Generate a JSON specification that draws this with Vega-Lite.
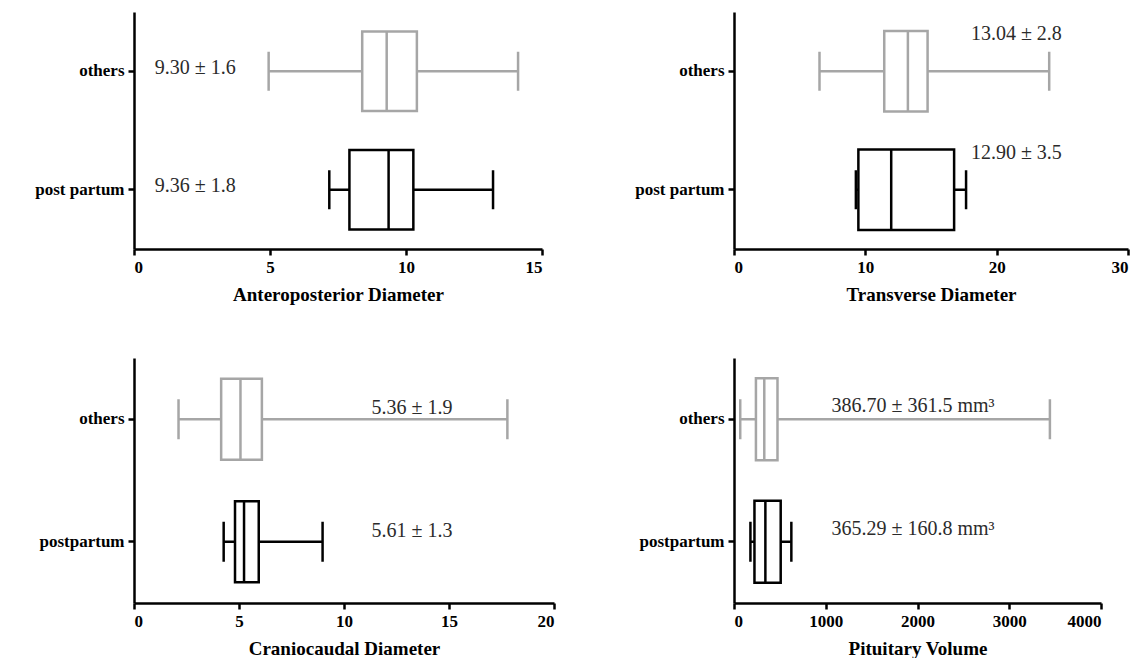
{
  "$schema": "https://vega.github.io/schema/vega-lite/v6.json",
  "background": "white",
  "padding": {"left": 34, "top": 12, "right": 0, "bottom": 0},
  "bounds": "flush",
  "align": "each",
  "columns": 2,
  "spacing": {"row": 109, "column": 180},
  "resolve": {"scale": {"color": "independent", "stroke": "independent"}},
  "config": {
    "view": {"stroke": null},
    "tick": {"opacity": 1},
    "axis": {
      "grid": false,
      "domainColor": "black",
      "domainWidth": 2.5,
      "tickColor": "black",
      "tickWidth": 2.5,
      "tickSize": 6,
      "labelFont": "Liberation Serif",
      "labelFontWeight": "bold",
      "labelFontSize": 17,
      "labelColor": "black",
      "labelPadding": 4,
      "titleFont": "Liberation Serif",
      "titleFontWeight": "bold",
      "titleFontSize": 19,
      "titleColor": "black",
      "titlePadding": 10
    },
    "text": {"font": "Liberation Serif", "fontSize": 20, "color": "#2b2b2b", "align": "center"}
  },
  "concat": [
        {
          "width": 408, "height": 237,
          "data": {"values": [
            {"group": "others", "min": 4.95, "q1": 8.39, "median": 9.29, "q3": 10.4, "max": 14.12, "label": "9.30 ± 1.6"},
            {"group": "post partum", "min": 7.18, "q1": 7.92, "median": 9.36, "q3": 10.27, "max": 13.2, "label": "9.36 ± 1.8"}
          ]},
          "encoding": {"y": {"field": "group", "type": "nominal", "sort": ["others", "post partum"], "scale": {"paddingInner": 0, "paddingOuter": 0}, "axis": {"title": null}}},
          "layer": [
            {"mark": {"type": "rule", "strokeWidth": 2.5}, "encoding": {
              "x": {"field": "min", "type": "quantitative", "scale": {"domain": [0, 15], "nice": false, "zero": false}, "axis": {"values": [0, 5, 10, 15], "title": "Anteroposterior Diameter"}},
              "x2": {"field": "max"},
              "color": {"field": "group", "type": "nominal", "scale": {"domain": ["others", "post partum"], "range": ["#a6a6a6", "#000000"]}, "legend": null}}},
            {"mark": {"type": "bar", "fill": "white", "strokeWidth": 2.5, "height": {"band": 0.67}}, "encoding": {
              "x": {"field": "q1", "type": "quantitative", "title": "Anteroposterior Diameter"}, "x2": {"field": "q3"},
              "stroke": {"field": "group", "type": "nominal", "scale": {"domain": ["others", "post partum"], "range": ["#a6a6a6", "#000000"]}, "legend": null}}},
            {"mark": {"type": "tick", "thickness": 2.5, "size": 80}, "encoding": {
              "x": {"field": "median", "type": "quantitative", "title": "Anteroposterior Diameter"},
              "color": {"field": "group", "type": "nominal", "scale": {"domain": ["others", "post partum"], "range": ["#a6a6a6", "#000000"]}, "legend": null}}},
            {"mark": {"type": "tick", "thickness": 2.5, "size": 39}, "encoding": {
              "x": {"field": "min", "type": "quantitative", "title": "Anteroposterior Diameter"},
              "color": {"field": "group", "type": "nominal", "scale": {"domain": ["others", "post partum"], "range": ["#a6a6a6", "#000000"]}, "legend": null}}},
            {"mark": {"type": "tick", "thickness": 2.5, "size": 39}, "encoding": {
              "x": {"field": "max", "type": "quantitative", "title": "Anteroposterior Diameter"},
              "color": {"field": "group", "type": "nominal", "scale": {"domain": ["others", "post partum"], "range": ["#a6a6a6", "#000000"]}, "legend": null}}},
            {"mark": {"type": "text", "dy": -3.5}, "encoding": {
              "x": {"datum": 2.25, "type": "quantitative"},
              "text": {"field": "label", "type": "nominal"}}}
          ]
        },
        {
          "width": 394, "height": 237,
          "data": {"values": [
            {"group": "others", "min": 6.51, "q1": 11.44, "median": 13.24, "q3": 14.74, "max": 24.0, "label": "13.04 ± 2.8"},
            {"group": "post partum", "min": 9.28, "q1": 9.47, "median": 11.97, "q3": 16.76, "max": 17.67, "label": "12.90 ± 3.5"}
          ]},
          "encoding": {"y": {"field": "group", "type": "nominal", "sort": ["others", "post partum"], "scale": {"paddingInner": 0, "paddingOuter": 0}, "axis": {"title": null}}},
          "layer": [
            {"mark": {"type": "rule", "strokeWidth": 2.5}, "encoding": {
              "x": {"field": "min", "type": "quantitative", "scale": {"domain": [0, 30], "nice": false, "zero": false}, "axis": {"values": [0, 10, 20, 30], "title": "Transverse Diameter"}},
              "x2": {"field": "max"},
              "color": {"field": "group", "type": "nominal", "scale": {"domain": ["others", "post partum"], "range": ["#a6a6a6", "#000000"]}, "legend": null}}},
            {"mark": {"type": "bar", "fill": "white", "strokeWidth": 2.5, "height": {"band": 0.68}}, "encoding": {
              "x": {"field": "q1", "type": "quantitative", "title": "Transverse Diameter"}, "x2": {"field": "q3"},
              "stroke": {"field": "group", "type": "nominal", "scale": {"domain": ["others", "post partum"], "range": ["#a6a6a6", "#000000"]}, "legend": null}}},
            {"mark": {"type": "tick", "thickness": 2.5, "size": 81}, "encoding": {
              "x": {"field": "median", "type": "quantitative", "title": "Transverse Diameter"},
              "color": {"field": "group", "type": "nominal", "scale": {"domain": ["others", "post partum"], "range": ["#a6a6a6", "#000000"]}, "legend": null}}},
            {"mark": {"type": "tick", "thickness": 2.5, "size": 39}, "encoding": {
              "x": {"field": "min", "type": "quantitative", "title": "Transverse Diameter"},
              "color": {"field": "group", "type": "nominal", "scale": {"domain": ["others", "post partum"], "range": ["#a6a6a6", "#000000"]}, "legend": null}}},
            {"mark": {"type": "tick", "thickness": 2.5, "size": 39}, "encoding": {
              "x": {"field": "max", "type": "quantitative", "title": "Transverse Diameter"},
              "color": {"field": "group", "type": "nominal", "scale": {"domain": ["others", "post partum"], "range": ["#a6a6a6", "#000000"]}, "legend": null}}},
            {"mark": {"type": "text", "dy": -37}, "encoding": {
              "x": {"datum": 21.5, "type": "quantitative"},
              "text": {"field": "label", "type": "nominal"}}}
          ]
        },
        {
          "width": 420, "height": 245,
          "data": {"values": [
            {"group": "others", "min": 2.12, "q1": 4.15, "median": 5.07, "q3": 6.09, "max": 17.78, "label": "5.36 ± 1.9"},
            {"group": "postpartum", "min": 4.27, "q1": 4.81, "median": 5.24, "q3": 5.94, "max": 8.98, "label": "5.61 ± 1.3"}
          ]},
          "encoding": {"y": {"field": "group", "type": "nominal", "sort": ["others", "postpartum"], "scale": {"paddingInner": 0, "paddingOuter": 0}, "axis": {"title": null}}},
          "layer": [
            {"mark": {"type": "rule", "strokeWidth": 2.5}, "encoding": {
              "x": {"field": "min", "type": "quantitative", "scale": {"domain": [0, 20], "nice": false, "zero": false}, "axis": {"values": [0, 5, 10, 15, 20], "title": "Craniocaudal Diameter"}},
              "x2": {"field": "max"},
              "color": {"field": "group", "type": "nominal", "scale": {"domain": ["others", "postpartum"], "range": ["#a6a6a6", "#000000"]}, "legend": null}}},
            {"mark": {"type": "bar", "fill": "white", "strokeWidth": 2.5, "height": {"band": 0.66}}, "encoding": {
              "x": {"field": "q1", "type": "quantitative", "title": "Craniocaudal Diameter"}, "x2": {"field": "q3"},
              "stroke": {"field": "group", "type": "nominal", "scale": {"domain": ["others", "postpartum"], "range": ["#a6a6a6", "#000000"]}, "legend": null}}},
            {"mark": {"type": "tick", "thickness": 2.5, "size": 81}, "encoding": {
              "x": {"field": "median", "type": "quantitative", "title": "Craniocaudal Diameter"},
              "color": {"field": "group", "type": "nominal", "scale": {"domain": ["others", "postpartum"], "range": ["#a6a6a6", "#000000"]}, "legend": null}}},
            {"mark": {"type": "tick", "thickness": 2.5, "size": 40}, "encoding": {
              "x": {"field": "min", "type": "quantitative", "title": "Craniocaudal Diameter"},
              "color": {"field": "group", "type": "nominal", "scale": {"domain": ["others", "postpartum"], "range": ["#a6a6a6", "#000000"]}, "legend": null}}},
            {"mark": {"type": "tick", "thickness": 2.5, "size": 40}, "encoding": {
              "x": {"field": "max", "type": "quantitative", "title": "Craniocaudal Diameter"},
              "color": {"field": "group", "type": "nominal", "scale": {"domain": ["others", "postpartum"], "range": ["#a6a6a6", "#000000"]}, "legend": null}}},
            {"mark": {"type": "text", "dy": -11}, "encoding": {
              "x": {"datum": 13.24, "type": "quantitative"},
              "text": {"field": "label", "type": "nominal"}}}
          ]
        },
        {
          "width": 367, "height": 245,
          "data": {"values": [
            {"group": "others", "min": 68, "q1": 239, "median": 330, "q3": 474, "max": 3443, "label": "386.70 ± 361.5 mm³"},
            {"group": "postpartum", "min": 179, "q1": 223, "median": 342, "q3": 509, "max": 625, "label": "365.29 ± 160.8 mm³"}
          ]},
          "encoding": {"y": {"field": "group", "type": "nominal", "sort": ["others", "postpartum"], "scale": {"paddingInner": 0, "paddingOuter": 0}, "axis": {"title": null}}},
          "layer": [
            {"mark": {"type": "rule", "strokeWidth": 2.5}, "encoding": {
              "x": {"field": "min", "type": "quantitative", "scale": {"domain": [0, 4000], "nice": false, "zero": false}, "axis": {"values": [0, 1000, 2000, 3000, 4000], "format": "d", "title": "Pituitary Volume"}},
              "x2": {"field": "max"},
              "color": {"field": "group", "type": "nominal", "scale": {"domain": ["others", "postpartum"], "range": ["#a6a6a6", "#000000"]}, "legend": null}}},
            {"mark": {"type": "bar", "fill": "white", "strokeWidth": 2.5, "height": {"band": 0.67}}, "encoding": {
              "x": {"field": "q1", "type": "quantitative", "title": "Pituitary Volume"}, "x2": {"field": "q3"},
              "stroke": {"field": "group", "type": "nominal", "scale": {"domain": ["others", "postpartum"], "range": ["#a6a6a6", "#000000"]}, "legend": null}}},
            {"mark": {"type": "tick", "thickness": 2.5, "size": 82}, "encoding": {
              "x": {"field": "median", "type": "quantitative", "title": "Pituitary Volume"},
              "color": {"field": "group", "type": "nominal", "scale": {"domain": ["others", "postpartum"], "range": ["#a6a6a6", "#000000"]}, "legend": null}}},
            {"mark": {"type": "tick", "thickness": 2.5, "size": 40}, "encoding": {
              "x": {"field": "min", "type": "quantitative", "title": "Pituitary Volume"},
              "color": {"field": "group", "type": "nominal", "scale": {"domain": ["others", "postpartum"], "range": ["#a6a6a6", "#000000"]}, "legend": null}}},
            {"mark": {"type": "tick", "thickness": 2.5, "size": 40}, "encoding": {
              "x": {"field": "max", "type": "quantitative", "title": "Pituitary Volume"},
              "color": {"field": "group", "type": "nominal", "scale": {"domain": ["others", "postpartum"], "range": ["#a6a6a6", "#000000"]}, "legend": null}}},
            {"mark": {"type": "text", "dy": -13}, "encoding": {
              "x": {"datum": 1951, "type": "quantitative"},
              "text": {"field": "label", "type": "nominal"}}}
          ]
        }
  ]
}
